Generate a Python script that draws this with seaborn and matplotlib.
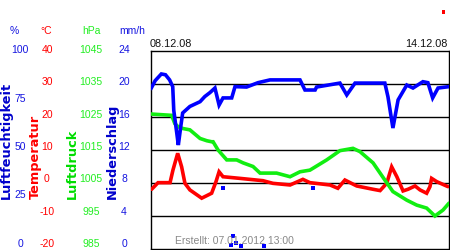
import matplotlib
matplotlib.use('Agg')
import matplotlib.pyplot as plt
from matplotlib.patches import Rectangle
import seaborn as sns
import pandas as pd

# ---------------- data (hours since 08.12.08 00:00) ----------------
hum_hours = [0, 2, 5, 7, 9, 10.5, 11, 12.4, 13.2, 14.4, 15.3, 18.8, 23.7, 26, 28.5,
             30.9, 32.9, 34.8, 39, 40.6, 46.2, 51.7, 57.5, 72, 74.4, 79.3, 80, 91.3,
             94.6, 98.6, 113, 114.5, 116.9, 119.4, 123.6, 126.6, 131.4, 133.8, 136.1,
             138.7, 144]
hum_values = [81, 85, 88.4, 88, 85.4, 82, 70, 59, 52.5, 62, 68.7, 72, 74.4, 77, 79,
              81.3, 72.7, 76.3, 76.3, 82, 81.8, 84, 85.4, 85.4, 80.3, 80.3, 81.8, 83.8,
              77.8, 83.8, 83.8, 76.9, 61.1, 75.3, 82.8, 81.3, 84.5, 84, 76.3,
              81.3, 82]

temp_hours = [0.3, 3.4, 9.2, 10.6, 12.9, 14.8, 16.4, 18.8, 24.5, 29.3, 31.4, 32.9, 34.8,
              43, 54.1, 58.9, 67.2, 73.4, 76.8, 86.5, 90.3, 93.7, 99.4, 107.3, 110.7,
              113.9, 116.3, 118.8, 121.8, 124.2, 127.6, 130, 133.2, 134.8, 135.6, 138.1,
              143.5]
temp_values = [-1.9, 0.1, 0.1, 3.9, 9, 4.9, -0.1, -2.1, -4.6, -3.1, 0.4, 3.4, 1.9,
               1.4, 0.7, -0.1, -0.6, 1.1, 0.1, -0.6, -1.6, 0.9, -0.9, -1.9, -2.3,
               -0.1, 4.9, 1.9, -2.4, -1.9, -0.9, -2.1, -3.1, -1.1, 1.4, 0.4,
               -1.1]

pres_hours = [0, 10, 11.5, 13.2, 15.5, 18.8, 23.7, 27, 29.3, 30, 32.4, 36.6, 41.4, 44.5,
              49.3, 52.7, 60.7, 67.2, 72, 76.8, 84.9, 91.3, 97.6, 101, 107.3, 113,
              116.9, 123.6, 128.4, 133.2, 137.2, 141.1, 144]
pres_values = [1025.9, 1025.5, 1023, 1022, 1021.5, 1021.1, 1018.5, 1017.8, 1017.5,
               1017.5, 1015, 1012, 1012, 1011.1, 1010, 1008, 1008, 1006.9, 1008.4,
               1008.9, 1012, 1014.8, 1015.5, 1014.5, 1011.1, 1005.9, 1002.4, 999.8,
               998.3, 997.4, 995, 996.8, 998.9]

rain_hours = [35, 38.7, 39.6, 41.1, 43.5, 54.6, 78.4]
rain_values = [7.4, 0.5, 1.6, 0.7, 0.4, 0.4, 7.4]

hum_ticks = [100, 75, 50, 25, 0]
temp_ticks = [40, 30, 20, 10, 0, -10, -20]
pres_ticks = [1045, 1035, 1025, 1015, 1005, 995, 985]
rain_ticks = [24, 20, 16, 12, 8, 4, 0]
date_labels = ["08.12.08", "14.12.08"]
created_text = "Erstellt: 07.01.2012 13:00"

# ---------------- style ----------------
sns.set_theme(style='white')
plt.rcParams['font.family'] = ['Liberation Sans', 'DejaVu Sans']

W, H = 450, 250
fig = plt.figure(figsize=(W / 100, H / 100), dpi=100)
fig.patch.set_facecolor('white')

L, R, T, B = 151, 449, 51, 249
ax = fig.add_axes([L / W, 1 - B / H, (R - L) / W, (B - T) / H])
ax.set_xlim(0, 144)
ax.set_ylim(-20, 40)
for s in ax.spines.values():
    s.set_color('black')
    s.set_linewidth(1.0)
for y in temp_ticks[1:-1]:
    ax.axhline(y, color='black', lw=1.0, zorder=1)

ax_p = ax.twinx()
ax_h = ax.twinx()
ax_r = ax.twinx()
ax_p.set_ylim(985, 1045)
ax_h.set_ylim(0, 100)
ax_r.set_ylim(0, 24)
for a in (ax_p, ax_h, ax_r):
    for s in a.spines.values():
        s.set_visible(False)

df_t = pd.DataFrame({'h': temp_hours, 'v': temp_values})
df_p = pd.DataFrame({'h': pres_hours, 'v': pres_values})
df_h = pd.DataFrame({'h': hum_hours, 'v': hum_values})
df_r = pd.DataFrame({'h': rain_hours, 'v': rain_values})

lw = 2.6
sns.lineplot(data=df_t, x='h', y='v', ax=ax, color='#ff0000', lw=lw, estimator=None,
             solid_joinstyle='miter', zorder=3)
sns.lineplot(data=df_p, x='h', y='v', ax=ax_p, color='#11ee11', lw=lw, estimator=None,
             solid_joinstyle='miter')
sns.lineplot(data=df_h, x='h', y='v', ax=ax_h, color='#0000ff', lw=lw, estimator=None,
             solid_joinstyle='miter')
sns.scatterplot(data=df_r, x='h', y='v', ax=ax_r, color='#0000ff', marker='s', s=6,
                linewidth=0)
for a in (ax, ax_p, ax_h, ax_r):
    a.set_xlabel('')
    a.set_ylabel('')
    a.set_xticks([])
    a.set_yticks([])
    a.set_xlim(0, 144)


def ft(x, y, s, **kw):
    fig.text(x / W, 1 - y / H, s, **kw)


fs = 7.5
blue_txt = '#1515e0'
green_txt = '#22ee22'
# unit headers
ft(14, 31, '%', color=blue_txt, fontsize=fs, ha='center', va='center')
ft(46, 31, '°C', color='#ff0000', fontsize=fs, ha='center', va='center')
ft(91, 31, 'hPa', color=green_txt, fontsize=fs, ha='center', va='center')
ft(132, 31, 'mm/h', color=blue_txt, fontsize=fs, ha='center', va='center')

# tick labels
ypos = [50 + i * (244 - 50) / 6 for i in range(7)]
for i, v in enumerate(hum_ticks):
    ft(20, 50 + i * (244 - 50) / 4, str(v), color=blue_txt, fontsize=fs, ha='center', va='center')
for y, v in zip(ypos, temp_ticks):
    ft(47, y, str(v), color='#ff0000', fontsize=fs, ha='center', va='center')
for y, v in zip(ypos, pres_ticks):
    ft(91, y, str(v), color=green_txt, fontsize=fs, ha='center', va='center')
for y, v in zip(ypos, rain_ticks):
    ft(124, y, str(v), color=blue_txt, fontsize=fs, ha='center', va='center')

# rotated axis titles
tf = 9.3
tfam = ['DejaVu Sans']
ft(6, 199, 'Luftfeuchtigkeit', color='#0000cc', fontsize=tf, fontweight='bold',
   family=tfam, rotation=90, ha='center', va='bottom')
ft(35, 199, 'Temperatur', color='#ff0000', fontsize=tf, fontweight='bold',
   family=tfam, rotation=90, ha='center', va='bottom')
ft(72, 199, 'Luftdruck', color='#00dd00', fontsize=tf, fontweight='bold',
   family=tfam, rotation=90, ha='center', va='bottom')
ft(112, 199, 'Niederschlag', color='#0000cc', fontsize=tf, fontweight='bold',
   family=tfam, rotation=90, ha='center', va='bottom')

# dates
ft(150, 44, date_labels[0], color='#111111', fontsize=7.8, ha='left', va='center')
ft(448, 44, date_labels[1], color='#111111', fontsize=7.8, ha='right', va='center')

# created text
ft(175, 241, created_text, color='#888888', fontsize=7.5, ha='left', va='center')

# small red marker top right
fig.add_artist(Rectangle((441.5 / W, 1 - 13.5 / H), 3 / W, 3 / H,
                         transform=fig.transFigure, color='#ff0000', lw=0))

fig.savefig('out.png', dpi=100)
